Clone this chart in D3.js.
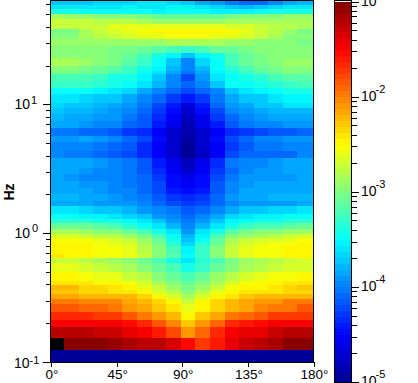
<!DOCTYPE html>
<html>
<head>
<meta charset="utf-8">
<script src="https://cdnjs.cloudflare.com/ajax/libs/d3/7.8.5/d3.min.js"></script>
<style>
    html, body { margin: 0; padding: 0; background: #fff; overflow: hidden; }
    svg { display: block; }
    text { font-family: "Liberation Sans", Arial, sans-serif; fill: #000; }
</style>
</head>
<body>
<div id="chart"></div>
<script>
// bin edges
const angleEdges = [0, 9, 19, 29, 39, 49, 59, 69, 79, 89, 99, 109, 119, 129, 139, 149, 159, 169, 180];
const freqEdges = [0.1, 0.124, 0.156, 0.187, 0.215, 0.248, 0.282, 0.313, 0.343, 0.368, 0.403, 0.432, 0.507, 0.596,
    0.652, 0.7, 0.807, 0.867, 0.931, 1, 1.09, 1.2, 1.29, 1.43, 1.65, 1.8, 2.04, 2.27, 2.58, 2.92, 3.25, 3.88, 4.4,
    5.16, 5.75, 6.64, 7.52, 8.51, 9.48, 10.4, 12.2, 13.6, 15.3, 17.4, 18.4, 20, 23.1, 25.3, 28.6, 32.5, 35.5, 38.8,
    42.5, 46.4, 50.7, 55.5, 59.6, 64];

// log10 power, low frequency row first, one value per angle bin
const logPower = [
    [-5,-5,-5,-5,-5,-5,-5,-5,-5,-5,-5,-5,-5,-5,-5,-5,-5,-5],
    [-0.9,-1.05,-1.05,-1.05,-1.1,-1.15,-1.2,-1.25,-1.35,-1.55,-1.75,-1.58,-1.38,-1.27,-1.2,-1.17,-1.06,-1.06],
    [-1.24,-1.24,-1.24,-1.3,-1.3,-1.4,-1.5,-1.6,-1.8,-2.1,-1.9,-1.65,-1.5,-1.42,-1.38,-1.3,-1.24,-1.22],
    [-1.44,-1.44,-1.46,-1.5,-1.5,-1.56,-1.65,-1.82,-2.05,-2.3,-2.1,-1.9,-1.63,-1.6,-1.55,-1.5,-1.44,-1.44],
    [-1.68,-1.68,-1.68,-1.7,-1.75,-1.82,-1.95,-2.07,-2.25,-2.5,-2.3,-2.15,-2,-1.9,-1.82,-1.75,-1.7,-1.7],
    [-1.87,-1.87,-1.9,-1.9,-1.97,-2.07,-2.17,-2.28,-2.38,-2.58,-2.5,-2.32,-2.2,-2.15,-2.05,-1.97,-1.95,-1.85],
    [-2,-2,-2.03,-2.03,-2.03,-2.15,-2.22,-2.35,-2.5,-2.72,-2.5,-2.37,-2.25,-2.17,-2.1,-2.07,-2,-2],
    [-2.17,-2.17,-2.2,-2.2,-2.2,-2.25,-2.37,-2.5,-2.68,-2.83,-2.68,-2.5,-2.38,-2.3,-2.25,-2.22,-2.2,-2.2],
    [-2.3,-2.3,-2.33,-2.33,-2.38,-2.42,-2.5,-2.63,-2.8,-3,-2.8,-2.62,-2.47,-2.42,-2.4,-2.38,-2.35,-2.33],
    [-2.25,-2.25,-2.33,-2.33,-2.43,-2.5,-2.6,-2.75,-2.9,-3.05,-2.92,-2.72,-2.56,-2.5,-2.44,-2.38,-2.32,-2.27],
    [-2.38,-2.38,-2.42,-2.47,-2.5,-2.56,-2.65,-2.83,-2.97,-3.12,-3,-2.82,-2.63,-2.52,-2.48,-2.45,-2.42,-2.4],
    [-2.5,-2.5,-2.52,-2.58,-2.62,-2.7,-2.8,-2.95,-3.08,-3.2,-3.08,-2.93,-2.78,-2.68,-2.62,-2.56,-2.52,-2.5],
    [-2.62,-2.62,-2.68,-2.72,-2.78,-2.87,-2.98,-3.12,-3.25,-3.38,-3.28,-3.12,-2.95,-2.83,-2.78,-2.73,-2.68,-2.63],
    [-2.7,-2.7,-2.77,-2.82,-2.88,-2.97,-3.08,-3.22,-3.42,-3.6,-3.35,-3.2,-3.02,-2.92,-2.85,-2.8,-2.73,-2.68],
    [-2.38,-2.5,-2.5,-2.52,-2.55,-2.6,-2.75,-2.95,-3.17,-3.48,-3.27,-2.98,-2.75,-2.62,-2.54,-2.53,-2.5,-2.5],
    [-2.5,-2.5,-2.5,-2.52,-2.56,-2.62,-2.78,-3,-3.25,-3.55,-3.3,-3,-2.75,-2.62,-2.55,-2.53,-2.5,-2.5],
    [-2.45,-2.45,-2.5,-2.53,-2.58,-2.67,-2.83,-3.05,-3.33,-3.65,-3.37,-3.07,-2.8,-2.67,-2.6,-2.55,-2.52,-2.45],
    [-2.54,-2.54,-2.56,-2.62,-2.67,-2.75,-2.9,-3.12,-3.4,-3.75,-3.45,-3.12,-2.87,-2.75,-2.68,-2.63,-2.58,-2.54],
    [-2.68,-2.68,-2.7,-2.76,-2.8,-2.88,-3.02,-3.22,-3.48,-3.8,-3.52,-3.22,-3,-2.88,-2.82,-2.76,-2.72,-2.68],
    [-2.87,-2.87,-2.9,-2.95,-2.98,-3.07,-3.2,-3.38,-3.58,-3.88,-3.62,-3.38,-3.17,-3.05,-2.98,-2.95,-2.9,-2.88],
    [-3.1,-3.1,-3.12,-3.17,-3.22,-3.32,-3.45,-3.6,-3.8,-4,-3.8,-3.6,-3.4,-3.27,-3.22,-3.2,-3.15,-3.12],
    [-3.33,-3.33,-3.35,-3.38,-3.42,-3.5,-3.6,-3.75,-3.9,-4.05,-3.9,-3.72,-3.55,-3.45,-3.42,-3.4,-3.37,-3.35],
    [-3.5,-3.5,-3.52,-3.55,-3.58,-3.65,-3.75,-3.88,-4,-4.1,-4,-3.85,-3.68,-3.6,-3.55,-3.53,-3.5,-3.5],
    [-3.6,-3.62,-3.68,-3.7,-3.72,-3.78,-3.88,-4,-4.05,-4.18,-4.08,-3.97,-3.82,-3.75,-3.72,-3.68,-3.65,-3.62],
    [-3.85,-3.85,-3.86,-3.88,-3.88,-3.93,-3.98,-4.1,-4.22,-4.3,-4.22,-4.08,-3.95,-3.9,-3.88,-3.88,-3.88,-3.86],
    [-3.8,-3.81,-3.85,-3.85,-3.9,-3.95,-4.03,-4.15,-4.3,-4.37,-4.3,-4.1,-3.93,-3.85,-3.83,-3.81,-3.8,-3.8],
    [-3.82,-3.84,-3.87,-3.9,-3.94,-4,-4.08,-4.23,-4.42,-4.5,-4.4,-4.13,-3.95,-3.85,-3.85,-3.83,-3.82,-3.82],
    [-3.84,-3.83,-3.88,-3.92,-3.97,-4.02,-4.1,-4.23,-4.45,-4.55,-4.45,-4.18,-3.98,-3.9,-3.87,-3.85,-3.84,-3.83],
    [-3.87,-3.92,-3.97,-3.96,-3.98,-4.06,-4.12,-4.26,-4.48,-4.62,-4.5,-4.23,-4.04,-3.93,-3.91,-3.89,-3.88,-3.87],
    [-3.82,-3.85,-3.92,-3.94,-3.97,-4.06,-4.17,-4.33,-4.55,-4.7,-4.55,-4.3,-4.08,-3.95,-3.92,-3.89,-3.87,-3.87],
    [-3.82,-3.84,-3.85,-3.89,-3.97,-4.02,-4.17,-4.38,-4.6,-4.8,-4.6,-4.33,-4.02,-3.97,-3.94,-3.9,-3.87,-3.87],
    [-4,-4.02,-4.05,-4.1,-4.14,-4.22,-4.35,-4.52,-4.75,-5,-4.78,-4.52,-4.22,-4.12,-4.1,-4.07,-4.07,-4],
    [-3.96,-3.98,-3.96,-4.01,-4.08,-4.18,-4.35,-4.55,-4.75,-4.95,-4.75,-4.55,-4.3,-4.15,-4.06,-4.04,-3.96,-3.96],
    [-3.92,-3.9,-3.87,-3.9,-4,-4.1,-4.25,-4.47,-4.7,-4.9,-4.72,-4.47,-4.23,-4.07,-4,-3.95,-3.9,-3.92],
    [-4.05,-4.05,-4.08,-4.12,-4.16,-4.26,-4.36,-4.52,-4.7,-4.85,-4.72,-4.52,-4.32,-4.26,-4.19,-4.16,-4.16,-4.1],
    [-3.84,-3.86,-3.92,-3.96,-4,-4.07,-4.18,-4.38,-4.6,-4.85,-4.62,-4.38,-4.16,-4.05,-4,-3.96,-3.89,-3.89],
    [-3.8,-3.83,-3.85,-3.9,-3.92,-4.03,-4.16,-4.36,-4.55,-4.8,-4.58,-4.3,-4.08,-3.95,-3.9,-3.85,-3.85,-3.82],
    [-3.75,-3.77,-3.8,-3.83,-3.9,-3.97,-4.1,-4.3,-4.5,-4.72,-4.5,-4.22,-4,-3.9,-3.83,-3.8,-3.77,-3.77],
    [-3.67,-3.69,-3.72,-3.77,-3.82,-3.89,-4.02,-4.2,-4.4,-4.65,-4.42,-4.12,-3.89,-3.82,-3.75,-3.69,-3.62,-3.62],
    [-3.6,-3.6,-3.65,-3.69,-3.75,-3.82,-3.94,-4.1,-4.28,-4.42,-4.3,-4.05,-3.85,-3.75,-3.69,-3.62,-3.56,-3.56],
    [-3.45,-3.45,-3.48,-3.52,-3.58,-3.68,-3.85,-4,-4.12,-4.25,-4.12,-3.95,-3.7,-3.62,-3.55,-3.48,-3.42,-3.42],
    [-3.3,-3.3,-3.3,-3.35,-3.4,-3.48,-3.6,-3.8,-3.95,-4.12,-3.95,-3.7,-3.5,-3.48,-3.4,-3.32,-3.3,-3.25],
    [-3.2,-3.2,-3.22,-3.27,-3.38,-3.42,-3.52,-3.72,-3.95,-4.2,-3.9,-3.62,-3.48,-3.42,-3.32,-3.22,-3.17,-3.15],
    [-3.03,-3.03,-3.08,-3.12,-3.22,-3.3,-3.45,-3.6,-3.85,-4.05,-3.85,-3.55,-3.4,-3.28,-3.15,-3.08,-3,-3.02],
    [-3,-3,-3.05,-3.1,-3.18,-3.27,-3.42,-3.55,-3.78,-3.98,-3.78,-3.5,-3.35,-3.22,-3.1,-3.02,-2.98,-2.98],
    [-2.85,-2.87,-2.9,-2.95,-3.05,-3.15,-3.28,-3.48,-3.7,-4,-3.68,-3.45,-3.25,-3.12,-3.02,-2.95,-2.9,-2.92],
    [-2.95,-2.95,-2.95,-3,-3.05,-3.12,-3.25,-3.4,-3.55,-3.75,-3.52,-3.38,-3.2,-3.1,-3.05,-3,-2.98,-2.97],
    [-2.97,-2.97,-2.95,-3,-3.05,-3.05,-3.1,-3.15,-3.25,-3.3,-3.2,-3.12,-3.08,-3.05,-3,-2.97,-2.97,-3],
    [-2.93,-2.93,-2.9,-2.92,-2.92,-2.92,-2.9,-2.88,-2.85,-2.85,-2.85,-2.87,-2.9,-2.92,-2.95,-2.95,-2.95,-3.02],
    [-3,-3,-2.85,-2.78,-2.72,-2.68,-2.62,-2.58,-2.55,-2.55,-2.55,-2.58,-2.62,-2.68,-2.75,-2.85,-2.95,-3],
    [-3.05,-3.02,-2.85,-2.72,-2.65,-2.58,-2.52,-2.5,-2.48,-2.48,-2.48,-2.5,-2.55,-2.62,-2.7,-2.8,-2.88,-3.02],
    [-2.72,-2.72,-2.72,-2.72,-2.62,-2.62,-2.62,-2.6,-2.58,-2.58,-2.58,-2.6,-2.65,-2.68,-2.72,-2.78,-2.78,-2.85],
    [-2.7,-2.72,-2.75,-2.78,-2.78,-2.8,-2.82,-2.88,-2.88,-2.88,-2.88,-2.88,-2.85,-2.82,-2.82,-2.82,-2.82,-2.82],
    [-2.85,-2.88,-2.92,-2.95,-3,-3,-3.05,-3.1,-3.1,-3.1,-3.1,-3.08,-3.05,-3,-2.97,-2.95,-2.92,-2.88],
    [-3.42,-3.42,-3.45,-3.48,-3.48,-3.45,-3.48,-3.52,-3.45,-3.45,-3.5,-3.52,-3.55,-3.55,-3.5,-3.42,-3.42,-3.38],
    [-3.6,-3.62,-3.62,-3.62,-3.58,-3.55,-3.58,-3.58,-3.55,-3.55,-3.62,-3.68,-3.72,-3.78,-3.75,-3.65,-3.62,-3.6],
    [-3.72,-3.75,-3.72,-3.68,-3.68,-3.65,-3.62,-3.62,-3.65,-3.7,-3.85,-3.92,-4.05,-4.12,-4.1,-3.95,-3.82,-3.78]
];

const angleTicks = [0, 45, 90, 135, 180];
const freqDecades = [0.1, 1, 10];
const freqExponents = ['-1', '0', '1'];
const freqMinor = [0.2, 0.3, 0.4, 0.5, 0.6, 0.7, 0.8, 0.9, 2, 3, 4, 5, 6, 7, 8, 9, 20, 30, 40, 50, 60];
const barDecades = [1e-5, 1e-4, 1e-3, 1e-2, 1e-1];
const barExponents = ['-5', '-4', '-3', '-2', '-1'];
const jetStops = ['#00008f', '#0000ff', '#00ffff', '#80ff80', '#ffff00', '#ff0000', '#800000'];
const jetStopAt = [0, 0.125, 0.375, 0.5, 0.625, 0.875, 1];

const width = 418;
const height = 383;
const plot = { left: 51, right: 313.5, top: 0.5, bottom: 362 };
const bar = { left: 335, right: 351, top: 1.7, bottom: 382 };

const svg = d3.select('#chart')
    .append('svg')
    .attr('width', width)
    .attr('height', height);

const x = d3.scaleLinear().domain([0, 180]).range([plot.left, plot.right]);
const y = d3.scaleLog().domain([0.1, 64]).range([plot.bottom, plot.top]);
const barY = d3.scaleLog().domain([1e-5, 1e-1]).range([bar.bottom, bar.top]);

// 64 level jet map, same as the color bar bands
const jet = d3.scaleLinear().domain(jetStopAt).range(jetStops);
const levels = d3.range(64).map(i => jet((i + 0.5) / 64));
const color = d3.scaleQuantize().domain([-5, -1]).range(levels);

const cells = [];
logPower.forEach((row, i) => {
    row.forEach((v, j) => {
        cells.push({ v, x0: angleEdges[j], x1: angleEdges[j + 1], y0: freqEdges[i], y1: freqEdges[i + 1] });
    });
});

svg.append('g')
    .attr('shape-rendering', 'crispEdges')
    .selectAll('rect')
    .data(cells)
    .enter()
    .append('rect')
    .attr('x', d => x(d.x0))
    .attr('width', d => x(d.x1) - x(d.x0) + 0.5)
    .attr('y', d => y(d.y1))
    .attr('height', d => y(d.y0) - y(d.y1) + 0.5)
    .attr('fill', d => d.v > -1 ? '#000' : color(d.v)); // above the scale comes out black

// frame
svg.append('rect')
    .attr('x', plot.left - 0.5)
    .attr('y', 0.5)
    .attr('width', plot.right - plot.left + 0.5)
    .attr('height', plot.bottom - 0.5)
    .attr('fill', 'none')
    .attr('stroke', '#000')
    .attr('shape-rendering', 'crispEdges');

function noLabels (axis, values, size) {
    return axis.tickValues(values).tickSize(size).tickFormat('');
}

function cleanAxis (g) {
    g.select('.domain').remove();
    g.selectAll('line').attr('stroke', '#000').attr('stroke-width', 1);
    g.attr('shape-rendering', 'crispEdges');
}

svg.append('g').attr('transform', `translate(${plot.left - 0.5},0)`)
    .call(noLabels(d3.axisLeft(y), freqDecades, 8)).call(cleanAxis);
svg.append('g').attr('transform', `translate(${plot.left - 0.5},0)`)
    .call(noLabels(d3.axisLeft(y), freqMinor, 5)).call(cleanAxis);
svg.append('g').attr('transform', `translate(0,${plot.bottom})`)
    .call(noLabels(d3.axisBottom(x), angleTicks, 5)).call(cleanAxis);

svg.append('g')
    .selectAll('text')
    .data(angleTicks)
    .enter()
    .append('text')
    .attr('x', d => x(d) + 1)
    .attr('y', 379)
    .attr('text-anchor', 'middle')
    .style('font-size', '13.5px')
    .text(d => d + '°');

function powerLabel (g, px, py, exponent, dx, dy) {
    const t = g.append('text').attr('x', px).attr('y', py).style('font-size', '14px');
    t.append('tspan').text('10');
    t.append('tspan').attr('dx', dx).attr('dy', dy).style('font-size', '11px').text(exponent);
}

const freqLabels = svg.append('g');
powerLabel(freqLabels, 14, y(0.1) + 6, freqExponents[0], 0, -4);
powerLabel(freqLabels, 14.5, y(1) + 5, freqExponents[1], 2, -6);
powerLabel(freqLabels, 14.5, y(10) + 5, freqExponents[2], 1, -5);

svg.append('text')
    .attr('transform', 'translate(14,192) rotate(-90)')
    .attr('text-anchor', 'middle')
    .style('font-size', '14px')
    .style('font-weight', 'bold')
    .text('Hz');

// color bar
svg.append('g')
    .attr('shape-rendering', 'crispEdges')
    .selectAll('rect')
    .data(levels)
    .enter()
    .append('rect')
    .attr('x', bar.left)
    .attr('width', bar.right - bar.left)
    .attr('y', (d, i) => barY(Math.pow(10, -5 + (i + 1) / 16)))
    .attr('height', (bar.bottom - bar.top) / 64 + 0.5)
    .attr('fill', d => d);

svg.append('rect')
    .attr('x', bar.left - 0.5)
    .attr('y', 0.5)
    .attr('width', bar.right - bar.left + 1)
    .attr('height', bar.bottom - 0.5)
    .attr('fill', 'none')
    .attr('stroke', '#000')
    .attr('shape-rendering', 'crispEdges');

const barMinor = [];
barDecades.slice(0, -1).forEach(d => {
    [2, 3, 4, 5, 6, 7, 8, 9].forEach(m => barMinor.push(d * m));
});

svg.append('g').attr('transform', `translate(${bar.right + 0.5},0)`)
    .call(noLabels(d3.axisRight(barY), barDecades, 7)).call(cleanAxis);
svg.append('g').attr('transform', `translate(${bar.right + 0.5},0)`)
    .call(noLabels(d3.axisRight(barY), barMinor, 5)).call(cleanAxis);

const barLabels = svg.append('g');
barDecades.forEach((v, i) => powerLabel(barLabels, 361, barY(v) + 4, barExponents[i], -1, -8));
</script>
</body>
</html>
